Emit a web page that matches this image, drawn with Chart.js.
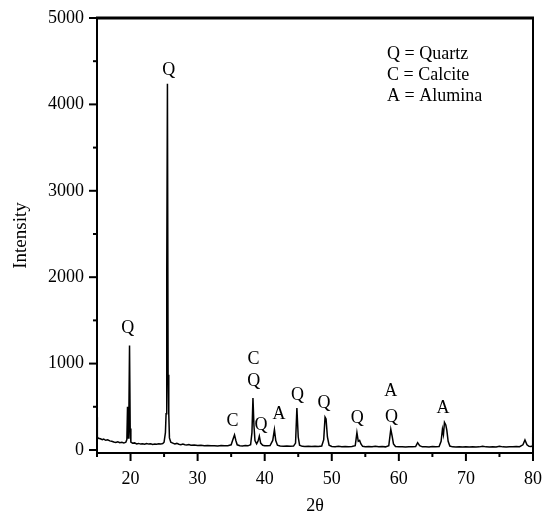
<!DOCTYPE html>
<html>
<head>
<meta charset="utf-8">
<script src="https://cdn.jsdelivr.net/npm/chart.js@4"></script>
<style>
  body { margin: 0; background: #fff; }
  canvas { display: block; }
</style>
</head>
<body>
<canvas id="xrd" width="550" height="519"></canvas>
<script>
// --- XRD pattern data ---
const twoTheta = [
  15.0, 15.05, 15.2, 15.5, 15.8, 16.0, 16.3, 16.6, 16.9, 17.2, 17.5, 17.8, 18.1, 18.4, 18.7, 19.0, 19.3,
  19.45, 19.55, 19.65, 19.75, 19.85, 19.95, 20.05, 20.3, 20.6, 20.9, 21.2, 21.5, 21.8, 22.1, 22.4, 22.7,
  23.0, 23.3, 23.6, 23.9, 24.2, 24.5, 24.8, 25.0, 25.2, 25.3, 25.4, 25.5, 25.6, 25.7, 25.8, 26.0, 26.3,
  26.6, 26.9, 27.2, 27.5, 27.8, 28.1, 28.4, 28.7, 29.0, 29.5, 30.0, 30.5, 31.0, 31.5, 32.0, 32.5, 33.0,
  33.5, 34.0, 34.5, 35.0, 35.3, 35.5, 35.7, 35.9, 36.3, 36.7, 37.1, 37.5, 37.9, 38.1, 38.25, 38.4, 38.55,
  38.8, 39.0, 39.2, 39.4, 39.7, 40.0, 40.4, 40.8, 41.2, 41.45, 41.65, 41.9, 42.3, 42.8, 43.3, 43.8, 44.3,
  44.6, 44.8, 45.0, 45.2, 45.6, 46.0, 46.5, 47.0, 47.5, 48.0, 48.5, 48.8, 49.0, 49.15, 49.35, 49.6, 50.0,
  50.5, 51.0, 51.5, 52.0, 52.5, 53.0, 53.5, 53.75, 53.95, 54.15, 54.35, 54.6, 55.0, 55.5, 56.0, 56.5,
  57.0, 57.5, 58.0, 58.5, 58.8, 59.0, 59.2, 59.5, 60.0, 60.5, 61.0, 61.5, 62.0, 62.5, 62.8, 63.1, 63.5,
  64.0, 64.5, 65.0, 65.5, 66.0, 66.3, 66.5, 66.65, 66.8, 67.0, 67.15, 67.35, 67.6, 68.0, 68.5, 69.0,
  69.5, 70.0, 70.5, 71.0, 71.5, 72.0, 72.5, 73.0, 73.5, 74.0, 74.5, 75.0, 75.5, 76.0, 76.5, 77.0, 77.5,
  78.0, 78.5, 78.8, 79.1, 79.4, 79.7, 79.95, 80.0
];
const intensity = [
  380, 150, 135, 130, 118, 125, 112, 118, 105, 100, 92, 88, 95, 85, 88, 80, 90,
  120, 500, 140, 400, 1210, 250, 90, 78, 82, 70, 76, 68, 72, 66, 74, 68,
  72, 65, 70, 66, 72, 68, 75, 90, 200, 420, 2080, 4240, 870, 420, 140, 90, 80,
  70, 76, 66, 62, 68, 60, 58, 62, 56, 58, 52, 56, 50, 52, 48, 50, 47,
  52, 48, 50, 60, 130, 175, 110, 60, 50, 47, 52, 48, 60, 200, 600, 280, 110,
  70, 100, 160, 80, 55, 50, 48, 52, 110, 235, 110, 55, 45, 42, 46, 42, 45,
  80, 485, 150, 55, 42, 40, 44, 40, 42, 40, 45, 120, 380, 360, 150, 55, 40,
  38, 42, 38, 40, 37, 40, 50, 200, 100, 110, 70, 42, 38, 40, 36, 42,
  37, 39, 36, 50, 240, 160, 70, 40, 36, 38, 35, 38, 36, 40, 85, 50, 36,
  38, 35, 40, 36, 40, 100, 240, 180, 320, 290, 230, 100, 45, 36, 34, 38,
  34, 36, 34, 38, 34, 36, 44, 36, 34, 37, 34, 44, 36, 34, 38, 36, 40,
  38, 60, 115, 60, 42, 40, 45, 800
];

const xTicks = [20, 30, 40, 50, 60, 70, 80];
const xMinorTicks = [15, 25, 35, 45, 55, 65, 75];
const yTicks = [0, 1000, 2000, 3000, 4000, 5000];
const yMinorTicks = [500, 1500, 2500, 3500, 4500];

// peak labels: text, 2θ, intensity where the letter sits
const peakText  = ['Q', 'Q', 'C', 'C', 'Q', 'Q', 'A', 'Q', 'Q', 'Q', 'A', 'Q', 'A'];
const peakTheta = [19.6, 25.7, 35.2, 38.35, 38.35, 39.45, 42.15, 44.9, 48.85, 53.8, 58.8, 58.9, 66.6];
const peakLevel = [1410, 4393, 328, 1053, 790, 281, 417, 637, 541, 367, 675, 379, 483];

const legendLines = ['Q = Quartz', 'C = Calcite', 'A = Alumina'];

const FONT = "'Liberation Serif', 'Times New Roman', serif";

// --- frame + outward tick marks ---
const frameTicks = {
  id: 'frameTicks',
  afterDraw(chart) {
    const { ctx, chartArea: a, scales } = chart;
    ctx.save();
    ctx.strokeStyle = '#000';
    ctx.lineWidth = 2;
    ctx.strokeRect(a.left, a.top, a.right - a.left, a.bottom - a.top);
    ctx.beginPath();
    ctx.moveTo(a.left - 1, a.top);
    ctx.lineTo(a.right + 1, a.top);
    ctx.lineWidth = 3;
    ctx.stroke();

    ctx.lineWidth = 2;
    const mark = (x1, y1, x2, y2) => { ctx.beginPath(); ctx.moveTo(x1, y1); ctx.lineTo(x2, y2); ctx.stroke(); };
    xTicks.forEach(v => { const x = scales.x.getPixelForValue(v); mark(x, a.bottom, x, a.bottom + 8); });
    xMinorTicks.forEach(v => { const x = scales.x.getPixelForValue(v); mark(x, a.bottom, x, a.bottom + 4); });
    yTicks.forEach(v => { const y = scales.y.getPixelForValue(v); mark(a.left, y, a.left - 8, y); });
    yMinorTicks.forEach(v => { const y = scales.y.getPixelForValue(v); mark(a.left, y, a.left - 4, y); });
    ctx.restore();
  }
};

// --- peak letters + phase key ---
const annotations = {
  id: 'annotations',
  afterDatasetsDraw(chart) {
    const { ctx, chartArea: a, scales } = chart;
    ctx.save();
    ctx.fillStyle = '#000';
    ctx.font = '18px ' + FONT;
    ctx.textAlign = 'center';
    ctx.textBaseline = 'middle';
    peakText.forEach((t, i) => {
      ctx.fillText(t, scales.x.getPixelForValue(peakTheta[i]), scales.y.getPixelForValue(peakLevel[i]));
    });

    ctx.textAlign = 'left';
    legendLines.forEach((t, i) => {
      ctx.fillText(t, a.right - 146, a.top + 36 + i * 21);
    });
    ctx.restore();
  }
};

new Chart(document.getElementById('xrd'), {
  type: 'line',
  data: {
    datasets: [{
      data: twoTheta.map((x, i) => ({ x: x, y: intensity[i] })),
      borderColor: '#000',
      borderWidth: 1.5,
      pointRadius: 0,
      tension: 0,
      fill: false
    }]
  },
  options: {
    responsive: false,
    animation: false,
    layout: { padding: { top: 18, right: 17, left: 0, bottom: 0 } },
    plugins: { legend: { display: false }, tooltip: { enabled: false } },
    scales: {
      x: {
        type: 'linear',
        min: 15,
        max: 80,
        afterBuildTicks: s => { s.ticks = xTicks.map(v => ({ value: v })); },
        afterFit: s => { s.height = 66; },
        grid: { drawOnChartArea: false, color: 'rgba(0,0,0,0)', tickLength: 8 },
        border: { display: false },
        ticks: { color: '#000', font: { family: FONT, size: 18 }, padding: 7, maxRotation: 0, callback: v => String(v) },
        title: { display: true, text: '2θ', color: '#000', font: { family: FONT, size: 18 }, padding: { top: 0, bottom: 2 } }
      },
      y: {
        min: -35,
        max: 5000,
        afterBuildTicks: s => { s.ticks = yTicks.map(v => ({ value: v })); },
        afterFit: s => { s.width = 97; },
        grid: { drawOnChartArea: false, color: 'rgba(0,0,0,0)', tickLength: 8 },
        border: { display: false },
        ticks: { color: '#000', font: { family: FONT, size: 18 }, padding: 5, callback: v => String(v) },
        title: { display: true, text: 'Intensity', color: '#000', font: { family: FONT, size: 19 }, padding: { top: 10, bottom: 0 } }
      }
    }
  },
  plugins: [frameTicks, annotations]
});
</script>
</body>
</html>
